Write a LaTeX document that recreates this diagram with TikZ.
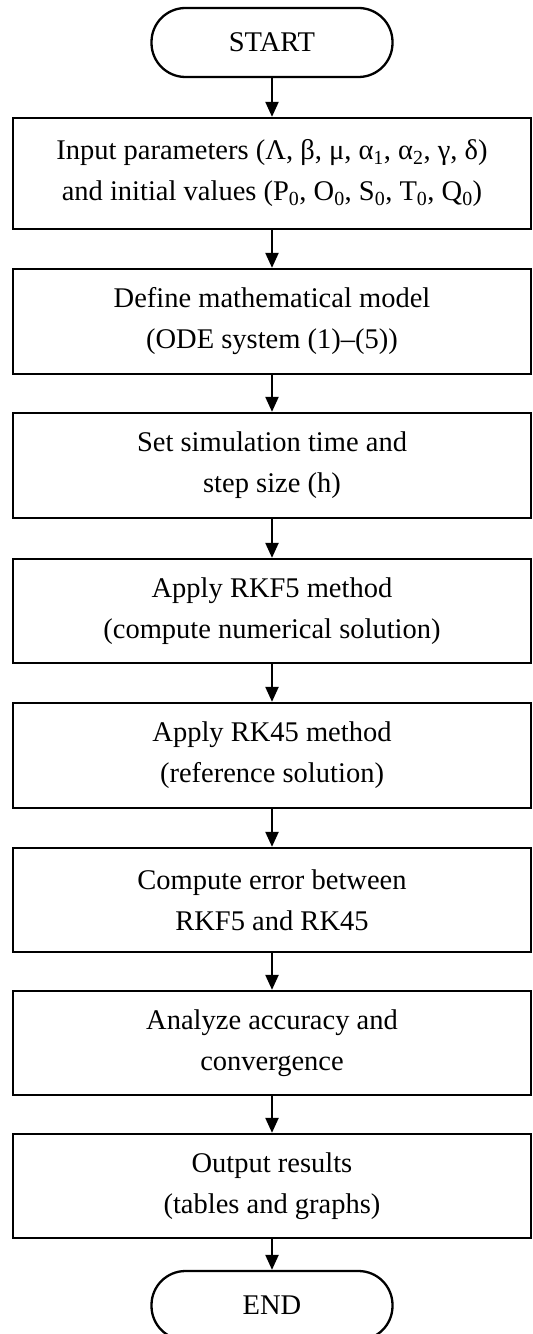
\documentclass[tikz,border=0pt]{standalone}
\usepackage{fontspec}
\setmainfont{Liberation Serif}
\usetikzlibrary{arrows.meta}
\begin{document}
\begin{tikzpicture}[x=1bp,y=-1bp,
  txt/.style={font=\fontsize{28.5bp}{41bp}\selectfont},
  proc/.style={txt, draw, line width=2.3bp, minimum width=518bp, align=center, inner sep=0pt},
  term/.style={txt, draw, line width=2.3bp, rounded corners=34bp, minimum width=241bp, minimum height=69bp, inner sep=0pt},
  flow/.style={line width=2.2bp, -{Triangle[width=13bp,length=15bp]}}]
\useasboundingbox (0,0) rectangle (533,1334);
\node[term] (start) at (272,42.5) {START};
\node[proc, minimum height=111bp] (b1) at (272,173.5) {Input parameters (Λ, β, μ, α\textsubscript{1}, α\textsubscript{2}, γ, δ)\\and initial values (P\textsubscript{0}, O\textsubscript{0}, S\textsubscript{0}, T\textsubscript{0}, Q\textsubscript{0})};
\node[proc, minimum height=105bp] (b2) at (272,321.5) {Define mathematical model\\(ODE system (1)–(5))};
\node[proc, minimum height=105bp] (b3) at (272,465.5) {Set simulation time and\\step size (h)};
\node[proc, minimum height=104bp] (b4) at (272,611) {Apply RKF5 method\\(compute numerical solution)};
\node[proc, minimum height=105bp] (b5) at (272,755.5) {Apply RK45 method\\(reference solution)};
\node[proc, minimum height=104bp] (b6) at (272,900) {Compute error between\\RKF5 and RK45};
\node[proc, minimum height=104bp] (b7) at (272,1043) {Analyze accuracy and\\convergence};
\node[proc, minimum height=104bp] (b8) at (272,1186) {Output results\\(tables and graphs)};
\node[term] (end) at (272,1305.5) {END};
\draw[flow] (start) -- (b1);
\draw[flow] (b1) -- (b2);
\draw[flow] (b2) -- (b3);
\draw[flow] (b3) -- (b4);
\draw[flow] (b4) -- (b5);
\draw[flow] (b5) -- (b6);
\draw[flow] (b6) -- (b7);
\draw[flow] (b7) -- (b8);
\draw[flow] (b8) -- (end);
\end{tikzpicture}
\end{document}
